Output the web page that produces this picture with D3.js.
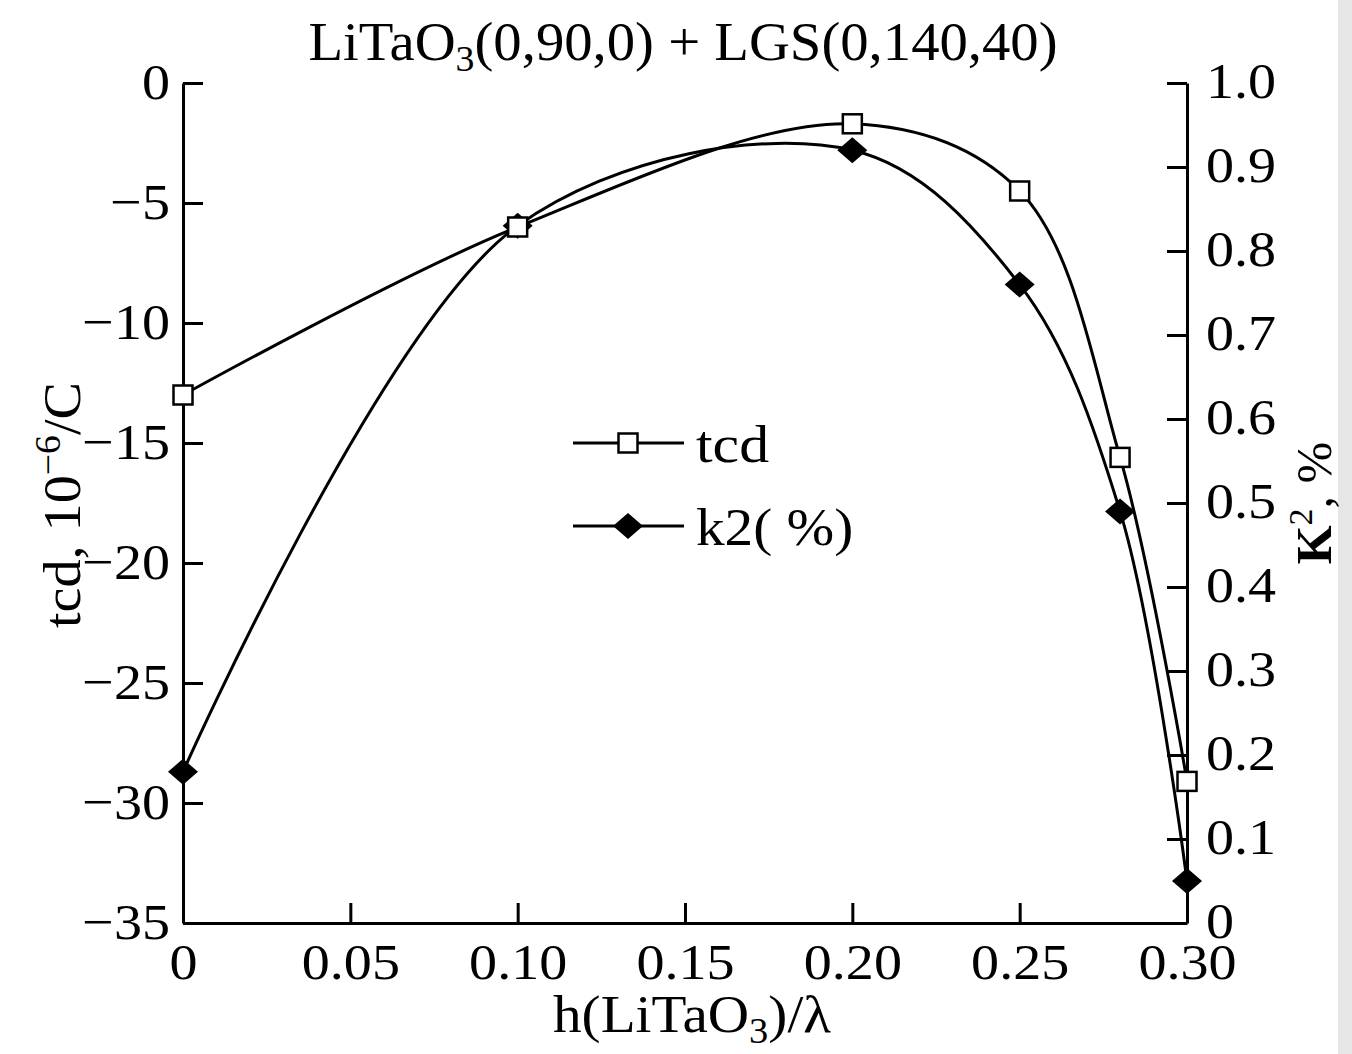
<!DOCTYPE html>
<html>
<head>
<meta charset="utf-8">
<script src="https://cdn.jsdelivr.net/npm/d3@7"></script>
<style>
  body { margin: 0; background: #fff; }
  svg text { font-family: "Liberation Serif", "DejaVu Serif", serif; fill: #000; }
</style>
</head>
<body>
<div id="chart"></div>
<script>
// thickness ratio h/lambda
const hValues = [0, 0.10, 0.20, 0.25, 0.28, 0.30];
// tcd, 10^-6/C (left axis)
const tcdValues = [-13.0, -6.0, -1.7, -4.5, -15.6, -29.1];
// K^2, % (right axis)
const k2Values = [0.18, 0.83, 0.92, 0.76, 0.49, 0.05];

const xTicks = [0, 0.05, 0.10, 0.15, 0.20, 0.25, 0.30];
const xTickLabels = ["0", "0.05", "0.10", "0.15", "0.20", "0.25", "0.30"];
const leftTicks = [0, -5, -10, -15, -20, -25, -30, -35];
const leftTickLabels = ["0", "\u22125", "\u221210", "\u221215", "\u221220", "\u221225", "\u221230", "\u221235"];
const rightTicks = [0, 0.1, 0.2, 0.3, 0.4, 0.5, 0.6, 0.7, 0.8, 0.9, 1.0];
const rightTickLabels = ["0", "0.1", "0.2", "0.3", "0.4", "0.5", "0.6", "0.7", "0.8", "0.9", "1.0"];

const width = 1352, height = 1054;
const margin = {top: 83, right: 165, bottom: 131, left: 183};

const svg = d3.select("#chart").append("svg")
    .attr("width", width)
    .attr("height", height);

// scan edge at the right
svg.append("rect")
    .attr("x", 1338).attr("y", 0).attr("width", 14).attr("height", height)
    .attr("fill", "#e6e6e6");

const x = d3.scaleLinear().domain([0, 0.30]).range([margin.left, width - margin.right]);
const yL = d3.scaleLinear().domain([-35, 0]).range([height - margin.bottom, margin.top]);
const yR = d3.scaleLinear().domain([0, 1.0]).range([height - margin.bottom, margin.top]);

const fontSize = 51;

// widen text a little, the scanned font is broader than Liberation Serif
function stretch(sel, f) {
    sel.each(function () {
        const w = this.getComputedTextLength();
        d3.select(this).attr("textLength", w * f).attr("lengthAdjust", "spacingAndGlyphs");
    });
}

// axes
const gx = svg.append("g")
    .attr("transform", `translate(0,${height - margin.bottom})`)
    .call(d3.axisBottom(x).tickValues(xTicks)
        .tickFormat((d, i) => xTickLabels[i])
        .tickSizeInner(-20).tickSizeOuter(0).tickPadding(20));

const gl = svg.append("g")
    .attr("transform", `translate(${margin.left},0)`)
    .call(d3.axisLeft(yL).tickValues(leftTicks)
        .tickFormat((d, i) => leftTickLabels[i])
        .tickSizeInner(-20).tickSizeOuter(0).tickPadding(13));

const gr = svg.append("g")
    .attr("transform", `translate(${width - margin.right},0)`)
    .call(d3.axisRight(yR).tickValues(rightTicks)
        .tickFormat((d, i) => rightTickLabels[i])
        .tickSizeInner(-20).tickSizeOuter(0).tickPadding(19));

[gx, gl, gr].forEach(g => {
    g.select(".domain").attr("stroke", "#000").attr("stroke-width", 3);
    g.selectAll(".tick line").attr("stroke", "#000").attr("stroke-width", 3);
    g.selectAll(".tick text")
        .attr("font-size", fontSize)
        .style("font-family", "'Liberation Serif', serif")
        .attr("fill", "#000");
    stretch(g.selectAll(".tick text"), 1.1);
});
gl.selectAll(".tick text").attr("dy", "0.3em");
gr.selectAll(".tick text").attr("dy", "0.28em");
// x ticks at the ends sit on the y axes
gx.selectAll(".tick line").filter(d => d === 0 || d === 0.30).remove();

// lines
const lineTcd = d3.line()
    .x((d, i) => x(hValues[i]))
    .y(d => yL(d))
    .curve(d3.curveCatmullRom.alpha(0.5));
const lineK2 = d3.line()
    .x((d, i) => x(hValues[i]))
    .y(d => yR(d))
    .curve(d3.curveCatmullRom.alpha(0.5));

svg.append("path")
    .datum(tcdValues)
    .attr("d", lineTcd)
    .attr("fill", "none").attr("stroke", "#000").attr("stroke-width", 3);
svg.append("path")
    .datum(k2Values)
    .attr("d", lineK2)
    .attr("fill", "none").attr("stroke", "#000").attr("stroke-width", 3);

// markers
const sq = 19;
function diamond(cx, cy) {
    const w = 15, h = 13;
    return `M${cx},${cy - h}L${cx + w},${cy}L${cx},${cy + h}L${cx - w},${cy}Z`;
}

svg.selectAll(".k2pt")
    .data(k2Values)
    .enter().append("path")
    .attr("class", "k2pt")
    .attr("d", (d, i) => diamond(x(hValues[i]), yR(d)))
    .attr("fill", "#000");

svg.selectAll(".tcdpt")
    .data(tcdValues)
    .enter().append("rect")
    .attr("class", "tcdpt")
    .attr("x", (d, i) => x(hValues[i]) - sq / 2)
    .attr("y", d => yL(d) - sq / 2)
    .attr("width", sq).attr("height", sq)
    .attr("fill", "#fff").attr("stroke", "#000").attr("stroke-width", 2.5);

// legend
const legend = svg.append("g").attr("transform", "translate(573,443)");
legend.append("line").attr("x1", 0).attr("x2", 111).attr("y1", 0).attr("y2", 0)
    .attr("stroke", "#000").attr("stroke-width", 3);
legend.append("rect").attr("x", 55 - sq / 2).attr("y", -sq / 2).attr("width", sq).attr("height", sq)
    .attr("fill", "#fff").attr("stroke", "#000").attr("stroke-width", 2.5);
const lt1 = legend.append("text").attr("x", 123).attr("y", 19).attr("font-size", 52).text("tcd");

legend.append("line").attr("x1", 0).attr("x2", 111).attr("y1", 83).attr("y2", 83)
    .attr("stroke", "#000").attr("stroke-width", 3);
legend.append("path").attr("d", diamond(55, 83)).attr("fill", "#000");
const lt2 = legend.append("text").attr("x", 123).attr("y", 102).attr("font-size", 52).text("k2( %)");
stretch(lt1, 1.15);
stretch(lt2, 1.1);

// title
const title = svg.append("g").attr("transform", "translate(683,60) scale(1.05,1)")
  .append("text")
    .attr("text-anchor", "middle")
    .attr("font-size", 54);
title.append("tspan").text("LiTaO");
title.append("tspan").attr("font-size", 36).attr("dy", 11).text("3");
title.append("tspan").attr("dy", -11).text("(0,90,0) + LGS(0,140,40)");

// x axis title
const xt = svg.append("g").attr("transform", "translate(692,1032) scale(1.1,1)")
  .append("text")
    .attr("text-anchor", "middle")
    .attr("font-size", 52);
xt.append("tspan").text("h(LiTaO");
xt.append("tspan").attr("font-size", 35).attr("dy", 11).text("3");
xt.append("tspan").attr("dy", -11).text(")/\u03bb");

// left axis title
const yt = svg.append("g").attr("transform", "translate(80,505) rotate(-90) scale(1.08,1)")
  .append("text")
    .attr("text-anchor", "middle")
    .attr("font-size", 52);
yt.append("tspan").text("tcd, 10");
yt.append("tspan").attr("font-size", 35).attr("dy", -20).text("\u22126");
yt.append("tspan").attr("dy", 20).text("/C");

// right axis title
const rt = svg.append("g").attr("transform", "translate(1331,503) rotate(-90)")
  .append("text")
    .attr("text-anchor", "middle")
    .attr("font-size", 50);
rt.append("tspan").attr("font-weight", "bold").text("K");
rt.append("tspan").attr("font-size", 34).attr("dy", -19).text("2");
rt.append("tspan").attr("dy", 19).text(", %");
</script>
</body>
</html>
